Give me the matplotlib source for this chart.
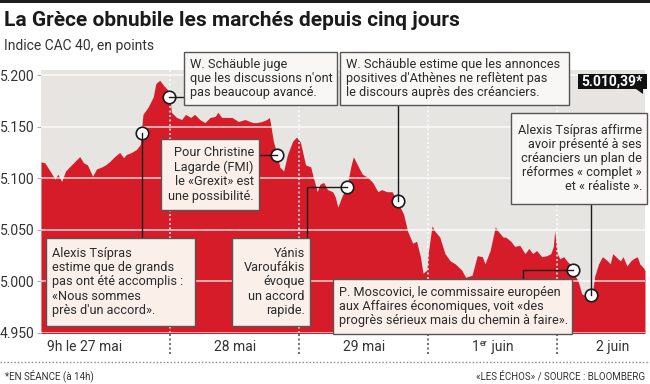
import matplotlib
matplotlib.use("Agg")
import matplotlib.pyplot as plt
from matplotlib.patches import Rectangle, Polygon
from matplotlib.lines import Line2D
from matplotlib import font_manager

# ---------------- data ----------------
# time in trading-day units (0 = 9h le 27 mai, 1 = 28 mai, ...), CAC 40 in points
t_day0 = [0.00, 0.03, 0.07, 0.11, 0.13, 0.16, 0.19, 0.22, 0.26, 0.30, 0.33, 0.36, 0.40, 0.43,
          0.47, 0.50, 0.53, 0.57, 0.61, 0.64, 0.66, 0.70, 0.74, 0.77, 0.78, 0.79, 0.83, 0.87,
          0.89, 0.92, 0.95, 0.98, 1.00]
v_day0 = [5116, 5115, 5107, 5099, 5104, 5097, 5107, 5111, 5116, 5121, 5115, 5113, 5102, 5109,
          5111, 5113, 5116, 5121, 5125, 5120, 5123, 5125, 5128, 5133, 5149, 5162, 5169, 5179,
          5192, 5195, 5190, 5186, 5178]
t_day1 = [1.01, 1.05, 1.09, 1.12, 1.16, 1.19, 1.23, 1.27, 1.31, 1.35, 1.37, 1.40, 1.44, 1.48,
          1.53, 1.58, 1.64, 1.67, 1.71, 1.75, 1.77, 1.78, 1.80, 1.83, 1.85, 1.88, 1.91, 1.95, 1.98]
v_day1 = [5164, 5159, 5157, 5162, 5159, 5162, 5157, 5154, 5159, 5160, 5164, 5159, 5159, 5159,
          5155, 5157, 5154, 5154, 5155, 5157, 5159, 5152, 5136, 5123, 5111, 5107, 5123, 5136, 5140]
t_day2 = [2.01, 2.05, 2.09, 2.11, 2.14, 2.16, 2.19, 2.22, 2.26, 2.28, 2.30, 2.33, 2.37, 2.40,
          2.42, 2.46, 2.49, 2.53, 2.57, 2.61, 2.64, 2.68, 2.72, 2.76, 2.81, 2.84, 2.88, 2.91,
          2.94, 2.96, 2.99]
v_day2 = [5135, 5113, 5111, 5101, 5087, 5094, 5096, 5089, 5087, 5082, 5072, 5082, 5092, 5111,
          5121, 5111, 5104, 5101, 5096, 5087, 5089, 5087, 5087, 5078, 5065, 5049, 5037, 5039,
          5024, 5008, 5011]
t_day3 = [3.00, 3.03, 3.05, 3.09, 3.13, 3.17, 3.21, 3.26, 3.29, 3.34, 3.38, 3.42, 3.44, 3.48,
          3.52, 3.54, 3.58, 3.60, 3.64, 3.67, 3.71, 3.75, 3.78, 3.81, 3.84, 3.88, 3.92, 3.95,
          3.97, 3.98]
v_day3 = [5027, 5054, 5049, 5043, 5027, 5020, 5017, 5011, 5004, 5006, 5025, 5024, 5017, 5030,
          5053, 5049, 5043, 5043, 5039, 5034, 5035, 5027, 5032, 5027, 5030, 5024, 5025, 5027,
          5034, 5049]
t_day4 = [4.00, 4.02, 4.05, 4.08, 4.10, 4.12, 4.16, 4.19, 4.22, 4.24, 4.27, 4.29, 4.32, 4.35,
          4.39, 4.41, 4.43, 4.47, 4.49, 4.51, 4.54, 4.57, 4.59, 4.62, 4.64, 4.67, 4.68]
v_day4 = [5027, 5022, 5024, 5019, 5017, 5009, 5001, 4988, 4986, 4992, 4987, 5005, 5017, 5024,
          5020, 5017, 5027, 5022, 5020, 5024, 5015, 5020, 5022, 5024, 5017, 5013, 5010.39]

day_labels = ["9h le 27 mai", "28 mai", "29 mai", "1|er| juin", "2 juin"]
y_ticks = [4950, 5000, 5050, 5100, 5150, 5200]
last_value_label = "5.010,39*"

event_t = [0.78, 0.99, 1.83, 2.37, 2.77, 4.12, 4.26]
event_v = [5144, 5179, 5123, 5092, 5078, 5011, 4987]
event_text = [
    "Alexis Tsípras\nestime que de grands\npas ont été accomplis :\n«Nous sommes\nprès d'un accord».",
    "W. Schäuble juge\nque les discussions n'ont\npas beaucoup avancé.",
    "Pour Christine\nLagarde (FMI)\nle «Grexit» est\nune possibilité.",
    "Yánis\nVaroufákis\névoque\nun accord\nrapide.",
    "W. Schäuble estime que les annonces\npositives d'Athènes ne reflètent pas\nle discours auprès des créanciers.",
    "P. Moscovici, le commissaire européen\naux Affaires économiques, voit «des\nprogrès sérieux mais du chemin à faire».",
    "Alexis Tsípras affirme\navoir présenté à ses\ncréanciers un plan de\nréformes « complet »\net « réaliste ».",
]

# ---------------- style ----------------
avail = {f.name for f in font_manager.fontManager.ttflist}
BODY = "Roboto" if "Roboto" in avail else "DejaVu Sans"
TITLE = "Liberation Sans Narrow" if "Liberation Sans Narrow" in avail else BODY
plt.rcParams["font.family"] = [BODY, "DejaVu Sans"]

RED = "#d71c29"
BG = "#e7e5e2"
PINK = "#fbefea"
WHITE_BOX = "#f8f7f5"
TXT = "#2b2b2b"
LAB = "#333333"

W, H = 650, 384
fig = plt.figure(figsize=(W / 100, H / 100), dpi=100)
fig.patch.set_facecolor("white")

def fx(x):
    return x / W

def fy(y):
    return 1 - y / H

# top black band
fig.add_artist(Rectangle((0, fy(3)), 1, 3 / H, transform=fig.transFigure,
                         facecolor="#1e1e1e", edgecolor="none"))

fig.text(fx(4), fy(21), "La Grèce obnubile les marchés depuis cinq jours",
         fontsize=15, fontweight="bold", color="#1a1a1a", va="center", ha="left",
         family=[TITLE, "DejaVu Sans"])
fig.text(fx(4), fy(46), "Indice CAC 40, en points", fontsize=10, color=LAB,
         va="center", ha="left")

# axes
ax = fig.add_axes([fx(41), fy(333), fx(645) - fx(41), fy(70) - fy(333)])
ax.set_facecolor(BG)
t = t_day0 + t_day1 + t_day2 + t_day3 + t_day4
v = v_day0 + v_day1 + v_day2 + v_day3 + v_day4
ax.fill_between(t, v, 4900, color=RED, linewidth=0, zorder=2)
ax.set_xlim(0, t[-1])
ax.set_ylim(4950, 5205)
for s in ax.spines.values():
    s.set_visible(False)
ax.set_xticks([])
ax.set_yticks(y_ticks)
ax.set_yticklabels([f"{y/1000:.3f}" for y in y_ticks], fontsize=10, color=LAB)
ax.tick_params(axis="y", length=3, color="#aaaaaa", pad=1.5)
for y in y_ticks:
    ax.axhline(y, color="white", lw=1.2, alpha=0.75, zorder=3)

# day separators
for d in range(1, 5):
    ax.axvline(d, color="white", lw=1.2, ls=(0, (1.2, 1.5)), alpha=0.85, zorder=3)
    xd = fx(41) + d / t[-1] * (fx(645) - fx(41))
    fig.add_artist(Line2D([xd, xd], [fy(334), fy(356)], transform=fig.transFigure,
                          color="#555555", lw=1.2, ls=(0, (1.2, 1.5))))

# day labels
fig.canvas.draw()
renderer = fig.canvas.get_renderer()
trans = matplotlib.transforms.blended_transform_factory(ax.transData, fig.transFigure)
ax.text(0.05, fy(347), day_labels[0], transform=trans, ha="left", va="center",
        fontsize=10, color=LAB)

def text_width(s, size):
    tmp = fig.text(0, 0, s, fontsize=size)
    w = tmp.get_window_extent(renderer).width / fig.bbox.width
    tmp.remove()
    return w

for d, lab in zip([1.5, 2.5, 3.5, 4.43], day_labels[1:]):
    if "|" in lab:
        a, sup, b = lab.split("|")
        wa, ws, wb = text_width(a, 10), text_width(sup, 6.5), text_width(b, 10)
        xc = ax.transData.transform((d, 0))[0] / fig.bbox.width
        x0 = xc - (wa + ws + wb) / 2
        fig.text(x0, fy(347), a, fontsize=10, color=LAB, ha="left", va="center")
        fig.text(x0 + wa, fy(344), sup, fontsize=6.5, color=LAB, ha="left", va="center")
        fig.text(x0 + wa + ws, fy(347), b, fontsize=10, color=LAB, ha="left", va="center")
    else:
        ax.text(d, fy(347), lab, transform=trans, ha="center", va="center",
                fontsize=10, color=LAB)

# footer
fig.add_artist(Line2D([0, 1], [fy(362), fy(362)], transform=fig.transFigure,
                      color="#888888", lw=1, ls=(0, (1, 1.5))))
fig.text(fx(5), fy(376), "*EN SÉANCE (à 14h)", fontsize=7, color=LAB,
         va="center", ha="left")
fig.text(fx(645), fy(376), "«LES ÉCHOS» / SOURCE : BLOOMBERG", fontsize=7,
         color=LAB, va="center", ha="right")

# ---------- annotation boxes (pixel layout) ----------
def box(x0, y0, x1, y1, text, align, fc):
    fig.add_artist(Rectangle((fx(x0), fy(y1)), fx(x1) - fx(x0), fy(y0) - fy(y1),
                             transform=fig.transFigure, facecolor=fc,
                             edgecolor="#555555", lw=1, zorder=5))
    if align == "left":
        xt, ha = x0 + 6, "left"
    else:
        xt, ha = x1 - 5, "right"
    fig.text(fx(xt), fy((y0 + y1) / 2), text, ha=ha, va="center", multialignment=align,
             fontsize=9.2, color=TXT, linespacing=1.12, zorder=6)

def to_px(tt, vv):
    X, Y = ax.transData.transform((tt, vv))
    return X / fig.dpi * 100, H - Y / fig.dpi * 100

def seg(points):
    xs = [fx(p[0]) for p in points]
    ys = [fy(p[1]) for p in points]
    fig.add_artist(Line2D(xs, ys, transform=fig.transFigure, color="#1a1a1a",
                          lw=1, zorder=4))

P = [to_px(a, b) for a, b in zip(event_t, event_v)]

# 0 Tsipras 1
seg([P[0], (P[0][0], 238)])
box(46, 238, 195, 326, event_text[0], "left", PINK)
# 1 Schauble 1
seg([P[1], (184, P[1][1])])
box(184, 52, 337, 105, event_text[1], "left", WHITE_BOX)
# 2 Lagarde
seg([P[2], (259, P[2][1])])
box(161, 139, 259, 210, event_text[2], "right", PINK)
# 3 Varoufakis
seg([P[3], (307, P[3][1]), (307, 238)])
box(232, 238, 310, 326, event_text[3], "right", PINK)
# 4 Schauble 2
seg([P[4], (P[4][0], 105)])
box(340, 52, 569, 105, event_text[4], "left", WHITE_BOX)
# 5 Moscovici
seg([P[5], (523, P[5][1]), (523, 279)])
box(333, 279, 572, 334, event_text[5], "left", PINK)
# 6 Tsipras 2
seg([P[6], (P[6][0], 204)])
box(511, 113, 647, 204, event_text[6], "right", WHITE_BOX)

# event markers
ax.plot(event_t, event_v, "o", ms=9, mfc="white", mec="#1a1a1a", mew=1.2,
        zorder=7, clip_on=False)

# last value tag
fig.add_artist(Rectangle((fx(578), fy(89)), fx(647) - fx(578), fy(74) - fy(89),
                         transform=fig.transFigure, facecolor="#111111",
                         edgecolor="none", zorder=5))
fig.add_artist(Polygon([(fx(636), fy(89)), (fx(643), fy(89)), (fx(643), fy(94))],
                       closed=True, transform=fig.transFigure, facecolor="#111111",
                       edgecolor="none", zorder=5))
fig.text(fx(612.5), fy(81.5), last_value_label, ha="center", va="center", fontsize=10,
         fontweight="bold", color="white", zorder=6)

fig.savefig("out.png", dpi=100, facecolor="white")
